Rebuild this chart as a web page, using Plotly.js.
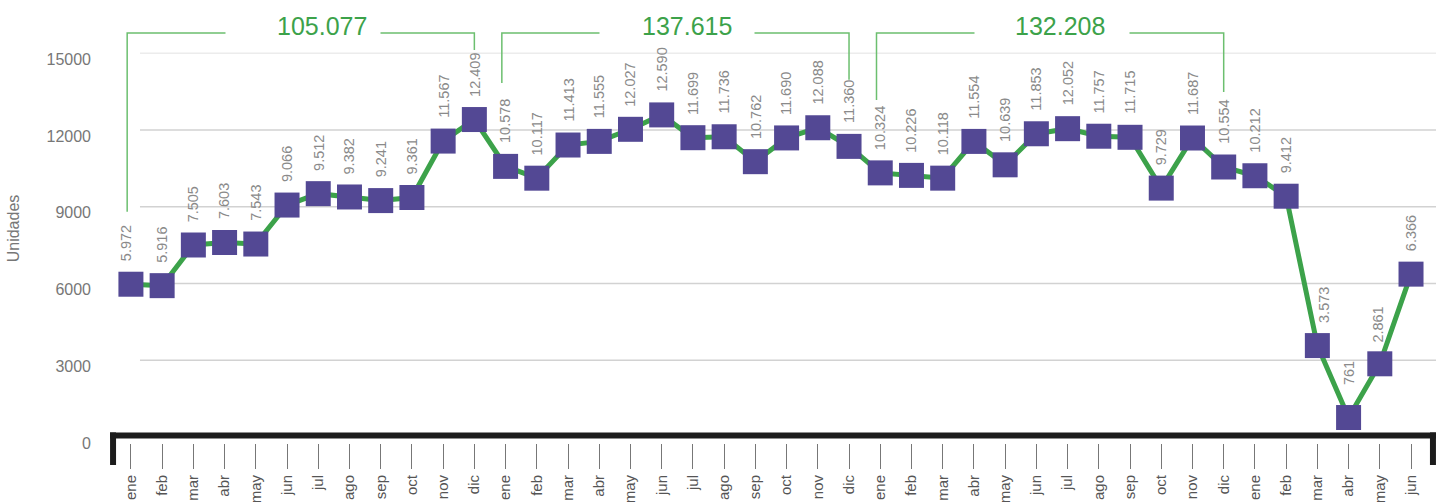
<!DOCTYPE html>
<html>
<head>
<meta charset="utf-8">
<script src="https://cdn.plot.ly/plotly-3.0.1.min.js"></script>
<style>
  html, body { margin: 0; padding: 0; background: #fff; }
  #chart { width: 1438px; height: 502px; }
</style>
</head>
<body>
<div id="chart"></div>
<script>
const monthNames = ['ene', 'feb', 'mar', 'abr', 'may', 'jun', 'jul', 'ago', 'sep', 'oct', 'nov', 'dic']

// monthly units, one array per year
const year1 = [5972, 5916, 7505, 7603, 7543, 9066, 9512, 9382, 9241, 9361, 11567, 12409]
const year2 = [10578, 10117, 11413, 11555, 12027, 12590, 11699, 11736, 10762, 11690, 12088, 11360]
const year3 = [10324, 10226, 10118, 11554, 10639, 11853, 12052, 11757, 11715, 9729, 11687, 10554]
const year4 = [10212, 9412, 3573, 761, 2861, 6366]

const yTicks = [0, 3000, 6000, 9000, 12000, 15000]

const values = [...year1, ...year2, ...year3, ...year4]
const xs = values.map((_, i) => i)
const tickText = values.map((_, i) => monthNames[i % 12])
const fullYears = [year1, year2, year3]

// 12345 -> "12.345"
const fmt = (n) => String(n).replace(/\B(?=(\d{3})+(?!\d))/g, '.')

const GREEN = '#3ca24a'
const PURPLE = '#534894'
const FONT = 'Liberation Sans, Arial, sans-serif'

// little nudges for labels around the steep drop
const labelXShift = { 0: -5, 38: 6, 40: -2 }
const labelYShift = { 39: 30, 40: 19 }

const labels = values.map((v, i) => ({
    x: i,
    y: v,
    text: fmt(v),
    textangle: -90,
    showarrow: false,
    xanchor: 'center',
    yanchor: 'bottom',
    yshift: labelYShift[i] || 21,
    xshift: labelXShift[i] || 0,
    font: { family: FONT, size: 14.5, color: '#8a8a8a' }
}))

// year brackets: top of bracket and where each leg stops (y units)
const bracketTop = 15790
const bracketLegs = [[8800, 15130], [13840, 13960], [13170, 13490]]
const totalShift = [19, 10, 8]

const shapes = []

// horizontal grid, starting a bit right of the axis
yTicks.filter(t => t > 0).forEach(t => {
    shapes.push({
        type: 'line', layer: 'below',
        xref: 'paper', yref: 'y',
        x0: 0.0226, x1: 1, y0: t, y1: t,
        line: { color: t === 15000 ? '#ececec' : '#d2d2d2', width: 1.5 }
    })
})

const totals = []
fullYears.forEach((yr, k) => {
    const i0 = k * 12
    const i1 = i0 + 11
    shapes.push({
        type: 'path',
        xref: 'x', yref: 'y',
        path: `M ${i0 - 0.12} ${bracketLegs[k][0]} L ${i0 - 0.12} ${bracketTop} L ${i1} ${bracketTop} L ${i1} ${bracketLegs[k][1]}`,
        line: { color: '#6cbf6f', width: 1.5 }
    })
    // white gap in the bracket line
    totals.push({
        x: (i0 + i1) / 2, y: bracketTop,
        text: ' ', showarrow: false,
        xanchor: 'center', yanchor: 'middle',
        width: 152, height: 20,
        bgcolor: '#ffffff'
    })
    totals.push({
        x: (i0 + i1) / 2,
        y: bracketTop,
        text: fmt(yr.reduce((a, b) => a + b, 0)),
        showarrow: false,
        xanchor: 'center',
        yanchor: 'middle',
        xshift: totalShift[k],
        yshift: 7,
        font: { family: FONT, size: 25, color: GREEN }
    })
})

// thick black base bar with stubs at both ends
shapes.push({
    type: 'line', xref: 'paper', yref: 'paper',
    x0: 0, x1: 1, y0: 0.018, y1: 0.018,
    line: { color: '#1c1c1c', width: 6 }
})
shapes.push({
    type: 'line', xref: 'paper', yref: 'paper',
    x0: 0.0023, x1: 0.0023, y0: 0.025, y1: -0.052,
    line: { color: '#1c1c1c', width: 6 }
})
shapes.push({
    type: 'line', xref: 'paper', yref: 'paper',
    x0: 0.9977, x1: 0.9977, y0: 0.025, y1: -0.052,
    line: { color: '#1c1c1c', width: 6 }
})

const trace = {
    x: xs,
    y: values,
    type: 'scatter',
    mode: 'lines+markers',
    line: { color: GREEN, width: 5 },
    marker: { symbol: 'square', size: 25, color: PURPLE },
    cliponaxis: false,
    hoverinfo: 'x+y'
}

const layout = {
    width: 1438,
    height: 502,
    margin: { l: 110, r: 2, t: 20, b: 59 },
    paper_bgcolor: '#fff',
    plot_bgcolor: 'rgba(0,0,0,0)',
    showlegend: false,
    font: { family: FONT },
    xaxis: {
        range: [-0.67, 41.8],
        anchor: 'free',
        position: 0,
        tickvals: xs,
        ticktext: tickText,
        tickangle: -90,
        ticks: 'outside',
        ticklen: 25,
        tickwidth: 1,
        tickcolor: '#777',
        tickfont: { family: FONT, size: 15, color: '#555' },
        showline: false,
        showgrid: false,
        zeroline: false
    },
    yaxis: {
        domain: [0.0142, 1],
        range: [0, 16300],
        tickvals: yTicks,
        ticktext: yTicks.map(String),
        tickfont: { family: FONT, size: 16, color: '#777' },
        ticklabelstandoff: 18,
        ticklabelshift: 6,
        showgrid: false,
        zeroline: false,
        showline: false,
        title: { text: 'Unidades', font: { family: FONT, size: 16, color: '#777' }, standoff: 22 }
    },
    shapes: shapes,
    annotations: [...labels, ...totals]
}

Plotly.newPlot('chart', [trace], layout, { displayModeBar: false, staticPlot: true })
</script>
</body>
</html>
